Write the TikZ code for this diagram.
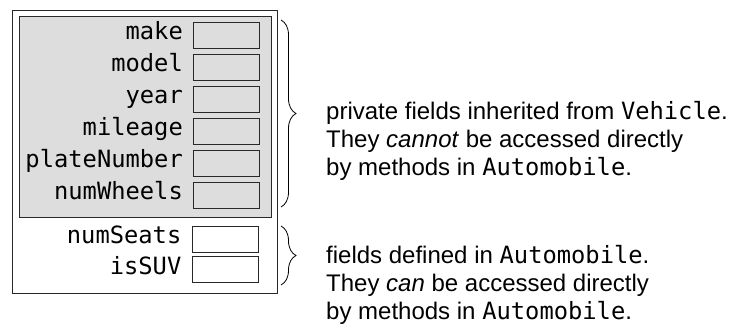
\documentclass[tikz,border=0pt]{standalone}
\usepackage{fontspec}
\setmainfont{Liberation Sans}
\setmonofont[Scale=0.99]{DejaVu Sans Mono}
\usetikzlibrary{positioning,calc,decorations.pathreplacing}
\definecolor{FieldGray}{RGB}{221,221,221}
\definecolor{EdgeGray}{RGB}{40,40,40}

\begin{document}
\begin{tikzpicture}[x=1pt, y=-1pt,
    fieldbox/.style={rectangle, draw=EdgeGray, line width=0.9pt, minimum width=66pt, minimum height=26pt, inner sep=0pt},
    fieldlbl/.style={font=\fontsize{24}{28}\selectfont\ttfamily, inner sep=0pt, text height=14pt, text depth=5pt},
    note/.style={anchor=west, align=left, font=\fontsize{24}{28}\selectfont, inner sep=0pt},
    brace/.style={decorate, decoration={brace, amplitude=15pt}, line width=0.8pt}
  ]
  \useasboundingbox (0,0) rectangle (731,324);

  % Automobile object
  \draw[EdgeGray, line width=0.8pt] (12,10) rectangle (277,293);
  \draw[EdgeGray, fill=FieldGray, line width=0.8pt] (19,16) rectangle (271,217);

  % Inherited fields
  \foreach \name/\y in {make/35, model/67, year/99, mileage/131, plateNumber/163, numWheels/195} {
    \node[fieldbox, fill=FieldGray] (\name) at (226.5,\y) {};
    \node[fieldlbl, left=10pt of \name] (\name-lbl) {\name};
  }

  % Own fields
  \foreach \name/\y in {numSeats/239, isSUV/269.5} {
    \node[fieldbox, fill=white] (\name) at (225,\y) {};
    \node[fieldlbl, left=10pt of \name] (\name-lbl) {\name};
  }

  % Braces
  \coordinate (inhTop) at (281,20);
  \coordinate (inhBot) at (281,207);
  \coordinate (ownTop) at (281,226);
  \coordinate (ownBot) at (281,285);
  \draw[brace] (inhTop) -- (inhBot);
  \draw[brace] (ownTop) -- (ownBot);

  % Notes
  \node[note] (inhNote) at (326,141) {private fields inherited from \texttt{Vehicle}.\\
    They \textit{cannot} be accessed directly\\
    by methods in \texttt{Automobile}.};
  \node[note] (ownNote) at (326,285) {fields defined in \texttt{Automobile}.\\
    They \textit{can} be accessed directly\\
    by methods in \texttt{Automobile}.};
\end{tikzpicture}
\end{document}
